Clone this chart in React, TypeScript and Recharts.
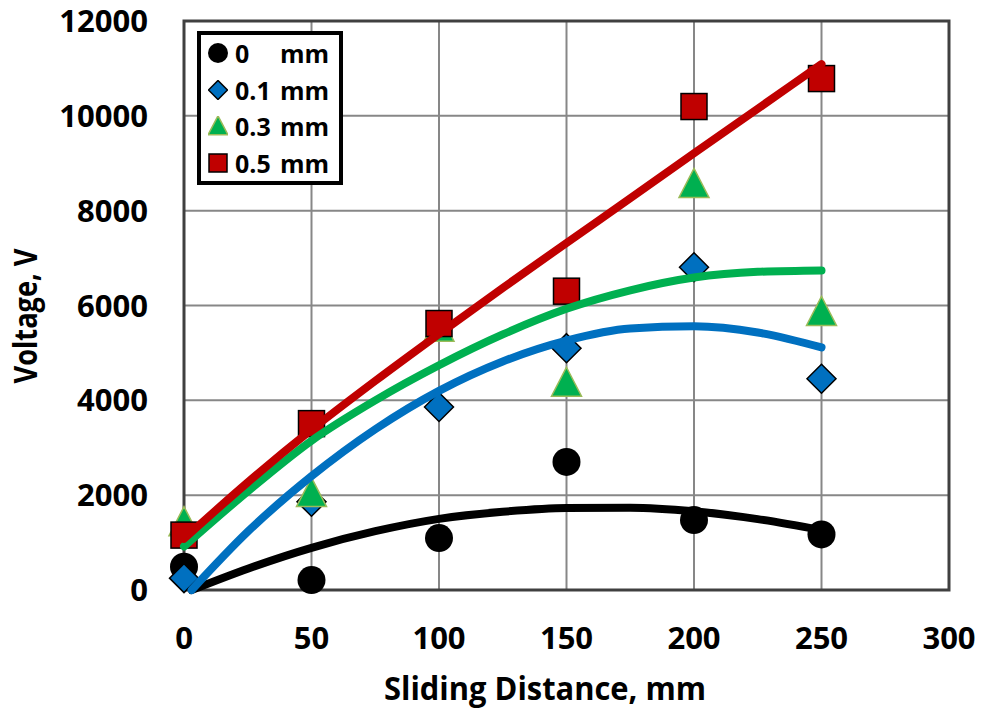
import React from 'react';
import { ComposedChart, Scatter, XAxis, YAxis, CartesianGrid, Legend, ReferenceArea, Label } from 'recharts';

// measured points (sliding distance in mm, voltage in V)
const distances = [0, 50, 100, 150, 200, 250];
const volts0 = [490, 210, 1095, 2700, 1474, 1172];
const volts01 = [250, 1860, 3860, 5100, 6807, 4456];
const volts03 = [1350, 1964, 5450, 4290, 8484, 5783];
const volts05 = [1158, 3509, 5620, 6302, 10196, 10786];

// trend lines
const trendXStart3 = [3, 25, 50, 75, 100, 125, 150, 175, 200, 225, 250];
const trendX = [0, 25, 50, 75, 100, 125, 150, 175, 200, 225, 250];
const trend0 = [0, 450, 890, 1240, 1500, 1650, 1730, 1735, 1660, 1495, 1265];
const trend01 = [0, 1230, 2400, 3390, 4200, 4820, 5260, 5515, 5560, 5430, 5115];
const trend03 = [920, 2080, 3150, 4000, 4740, 5390, 5930, 6320, 6590, 6710, 6740];
const trend05 = [1080, 2270, 3380, 4410, 5400, 6370, 7320, 8260, 9210, 10150, 11090];

const xTicks = [0, 50, 100, 150, 200, 250, 300];
const yTicks = [0, 2000, 4000, 6000, 8000, 10000, 12000];

const seriesNames = ['0', '0.1', '0.3', '0.5'];

const toPoints = (xs: number[], ys: number[]) => xs.map((x, i) => ({ x, y: ys[i] }));

const FONT = '"Open Sans", "Liberation Sans", sans-serif';

const Circle = ({ cx, cy, r }: any) => <circle cx={cx} cy={cy} r={r} fill="#000000" />;
const Diamond = ({ cx, cy, r }: any) => (
    <polygon
        points={`${cx},${cy - r} ${cx + r},${cy} ${cx},${cy + r} ${cx - r},${cy}`}
        fill="#0070C0"
        stroke="#000000"
        strokeWidth={1.5}
    />
);
const Triangle = ({ cx, cy, w, h }: any) => (
    <polygon
        points={`${cx},${cy - (2 * h) / 3} ${cx + w / 2},${cy + h / 3} ${cx - w / 2},${cy + h / 3}`}
        fill="#00B050"
        stroke="#9BBB59"
        strokeWidth={1.5}
    />
);
const Square = ({ cx, cy, s }: any) => (
    <rect x={cx - s / 2} y={cy - s / 2} width={s} height={s} fill="#C00000" stroke="#000000" strokeWidth={1.5} />
);

const noDot = () => <g />;

const legendMarkers = [
    <Circle cx={10} cy={10} r={10} />,
    <Diamond cx={10} cy={10} r={9.5} />,
    <Triangle cx={10} cy={12.5} w={20} h={19} />,
    <Square cx={10} cy={10} s={18} />,
];

const LegendBox = () => (
    <div
        style={{
            width: 146,
            height: 154,
            boxSizing: 'border-box',
            border: '4px solid #000',
            background: '#fff',
            fontFamily: FONT,
            fontWeight: 700,
            fontSize: 25,
            color: '#000',
        }}
    >
        {seriesNames.map((name, i) => (
            <div key={name} style={{ height: 36.5, display: 'flex', alignItems: 'center' }}>
                <svg width={20} height={20} style={{ marginLeft: 7, marginRight: 7 }}>
                    {legendMarkers[i]}
                </svg>
                <span style={{ display: 'inline-block', width: 45 }}>{name}</span>
                <span>mm</span>
            </div>
        ))}
    </div>
);

const XTitle = () => (
    <text x={384} y={700} fontFamily={FONT} fontWeight={700} fontSize={32} fill="#000" textLength={322} lengthAdjust="spacingAndGlyphs">
        Sliding Distance, mm
    </text>
);

const YTitle = () => (
    <text
        x={37}
        y={316}
        transform="rotate(-90 37 316)"
        textAnchor="middle"
        fontFamily={FONT}
        fontWeight={700}
        fontSize={32}
        fill="#000"
        textLength={135}
        lengthAdjust="spacingAndGlyphs"
    >
        Voltage, V
    </text>
);

export default function App() {
    const tickStyle = { fontFamily: FONT, fontWeight: 700, fontSize: 31, fill: '#000' };
    return (
        <div style={{ position: 'absolute', left: 0, top: 0, background: '#fff' }}>
            <ComposedChart width={984} height={715} margin={{ top: 21, right: 35, bottom: 0, left: 0 }}>
                <CartesianGrid stroke="#878787" strokeWidth={2} horizontalValues={yTicks} verticalValues={xTicks} />
                <XAxis
                    type="number"
                    dataKey="x"
                    domain={[0, 300]}
                    ticks={xTicks}
                    height={125}
                    tick={tickStyle}
                    tickSize={0}
                    tickMargin={37}
                    axisLine={false}
                    tickLine={false}
                >
                    <Label content={<XTitle />} />
                </XAxis>
                <YAxis
                    type="number"
                    dataKey="y"
                    domain={[0, 12000]}
                    ticks={yTicks}
                    width={184}
                    tick={tickStyle}
                    tickSize={0}
                    tickMargin={36}
                    axisLine={false}
                    tickLine={false}
                >
                    <Label content={<YTitle />} />
                </YAxis>
                <ReferenceArea x1={0} x2={300} y1={0} y2={12000} fill="none" stroke="#404040" strokeWidth={3} />
                <Legend
                    layout="vertical"
                    align="center"
                    verticalAlign="middle"
                    content={<LegendBox />}
                    wrapperStyle={{ left: 197, top: 31, width: 146, height: 154 }}
                />

                <Scatter name="0 mm" data={toPoints(distances, volts0)} shape={(p: any) => <Circle cx={p.cx} cy={p.cy} r={14} />} isAnimationActive={false} />
                <Scatter name="0.1 mm" data={toPoints(distances, volts01)} shape={(p: any) => <Diamond cx={p.cx} cy={p.cy} r={14.5} />} isAnimationActive={false} />
                <Scatter name="0.3 mm" data={toPoints(distances, volts03)} shape={(p: any) => <Triangle cx={p.cx} cy={p.cy} w={30} h={29} />} isAnimationActive={false} />
                <Scatter name="0.5 mm" data={toPoints(distances, volts05)} shape={(p: any) => <Square cx={p.cx} cy={p.cy} s={26} />} isAnimationActive={false} />

                <Scatter data={toPoints(trendXStart3, trend0)} line={{ stroke: '#000000', strokeWidth: 8, strokeLinecap: 'round' }} lineJointType="monotoneX" shape={noDot} legendType="none" isAnimationActive={false} />
                <Scatter data={toPoints(trendXStart3, trend01)} line={{ stroke: '#0070C0', strokeWidth: 8, strokeLinecap: 'round' }} lineJointType="monotoneX" shape={noDot} legendType="none" isAnimationActive={false} />
                <Scatter data={toPoints(trendX, trend03)} line={{ stroke: '#00B050', strokeWidth: 8, strokeLinecap: 'round' }} lineJointType="monotoneX" shape={noDot} legendType="none" isAnimationActive={false} />
                <Scatter data={toPoints(trendX, trend05)} line={{ stroke: '#C00000', strokeWidth: 8, strokeLinecap: 'round' }} lineJointType="monotoneX" shape={noDot} legendType="none" isAnimationActive={false} />
            </ComposedChart>
        </div>
    );
}
